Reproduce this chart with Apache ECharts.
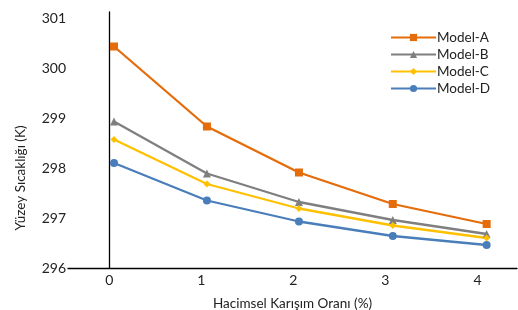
<!DOCTYPE html>
<html>
<head>
<meta charset="utf-8">
<script src="https://cdn.jsdelivr.net/npm/echarts@6/dist/echarts.min.js"></script>
<style>
html,body{margin:0;padding:0;background:#fff;}
#main{width:518px;height:310px;}
</style>
</head>
<body>
<div id="main"></div>
<script>
// x positions of the points (volume mixing ratio, %)
const xVals = [0.05, 1.06, 2.06, 3.08, 4.1];
const xTicks = [0, 1, 2, 3, 4];
const yTicks = [296, 297, 298, 299, 300, 301];

const modelA = [300.43, 298.83, 297.91, 297.28, 296.88];
const modelB = [298.93, 297.89, 297.32, 296.96, 296.68];
const modelC = [298.57, 297.68, 297.19, 296.85, 296.6];
const modelD = [298.1, 297.35, 296.93, 296.64, 296.46];

const names = ['Model-A', 'Model-B', 'Model-C', 'Model-D'];
const colors = ['#E46C0A', '#7F7F7F', '#FFC000', '#4A7EBB'];
const symbols = ['rect', 'triangle', 'diamond', 'circle'];
const sizes = [8, 8, 7, 8];

const font = 'Lato';
const chart = echarts.init(document.getElementById('main'));

const series = [modelA, modelB, modelC, modelD].map(function (vals, i) {
    return {
        name: names[i],
        type: 'line',
        data: vals.map(function (v, j) { return [xVals[j], v]; }),
        symbol: symbols[i],
        symbolSize: sizes[i],
        showAllSymbol: true,
        lineStyle: {color: colors[i], width: 2.3},
        itemStyle: {color: colors[i]},
        emphasis: {disabled: true}
    };
});

chart.setOption({
    animation: false,
    textStyle: {fontFamily: font},
    grid: {left: 68, right: 1, top: 12, bottom: 42, outerBoundsMode: 'none', containLabel: false},
    legend: {
        orient: 'vertical',
        left: 385,
        top: 25,
        itemWidth: 45,
        itemHeight: 9,
        itemGap: 2,
        textStyle: {fontFamily: font, fontSize: 13.5, lineHeight: 15, color: '#222', padding: [0, 0, 0, -4]},
        data: names
    },
    xAxis: {
        type: 'value',
        min: -0.45,
        max: 4.43,
        name: 'Hacimsel Karışım Oranı (%)',
        nameLocation: 'middle',
        nameGap: 29,
        nameTextStyle: {fontFamily: font, fontSize: 13.5, color: '#222'},
        axisLine: {lineStyle: {color: '#000', width: 1.3}},
        axisTick: {show: false},
        splitLine: {show: false},
        axisLabel: {customValues: xTicks, fontFamily: font, fontSize: 14, color: '#222', margin: 5}
    },
    yAxis: {
        type: 'value',
        min: 296,
        max: 301.12,
        axisLine: {show: true, lineStyle: {color: '#000', width: 1.3}},
        axisTick: {show: false},
        splitLine: {show: false},
        axisLabel: {customValues: yTicks, fontFamily: font, fontSize: 14, color: '#222', margin: 2, padding: [0, 0, 4, 0]}
    },
    graphic: [{
        type: 'text',
        x: 21,
        y: 178,
        rotation: Math.PI / 2,
        style: {
            text: 'Yüzey Sıcaklığı (K)',
            fontFamily: font,
            fontSize: 13.5,
            fill: '#222',
            align: 'center',
            verticalAlign: 'middle'
        }
    }],
    series: series
});
</script>
</body>
</html>
